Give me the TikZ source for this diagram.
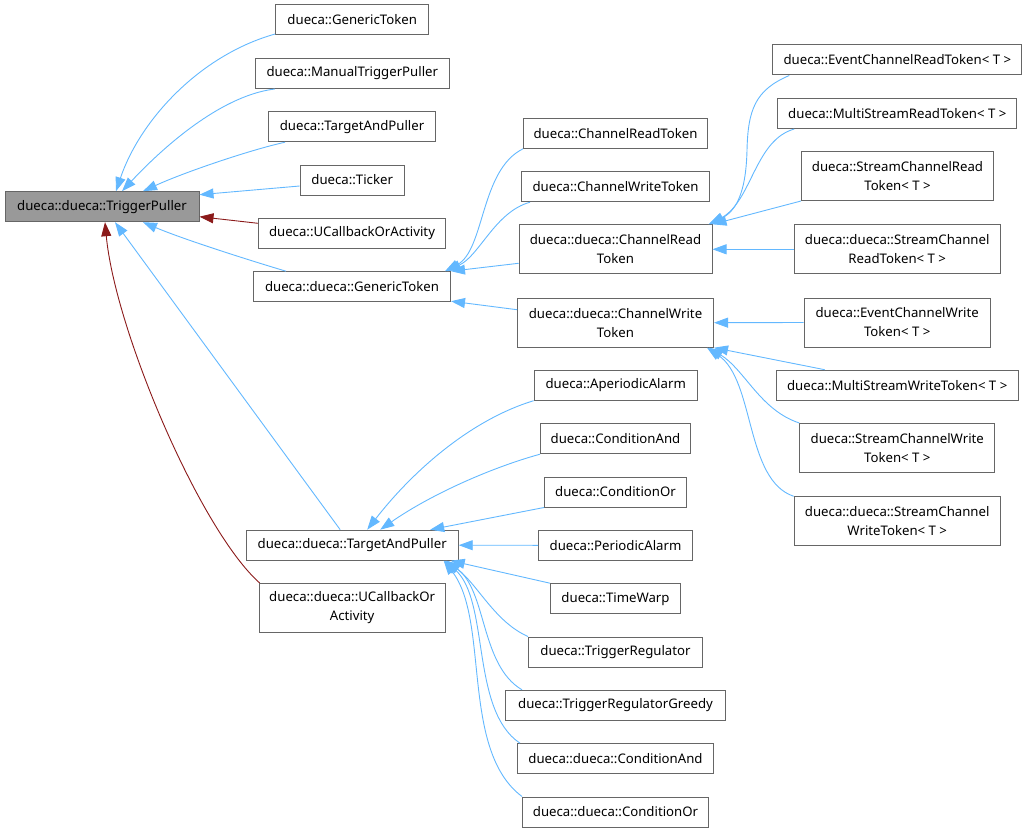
\documentclass[tikz,border=0pt]{standalone}
\usepackage{fontspec}
\setmainfont{Noto Sans}
\usetikzlibrary{arrows.meta,calc}
\definecolor{eblue}{RGB}{99,184,255}
\definecolor{ered}{RGB}{139,26,26}
\definecolor{bgray}{RGB}{102,102,102}
\definecolor{fgray}{RGB}{153,153,153}
\begin{document}
\begin{tikzpicture}[x=1pt,y=-1pt,
  box/.style={draw=bgray, line width=1pt, fill=white, inner sep=0pt, align=center,
    font=\fontsize{13.2}{19}\selectfont, minimum height=30pt},
  tall/.style={minimum height=49pt},
  inh/.style={draw=eblue, line width=0.9pt, -{Triangle[length=14pt,width=10pt,fill=eblue]}},
  prot/.style={draw=ered, line width=0.9pt, -{Triangle[length=14pt,width=10pt,fill=ered]}}]
\useasboundingbox (0,0) rectangle (1027,832);
% left column
\node[box, fill=fgray, minimum width=194pt] (tp) at (102,206.7) {dueca::dueca::TriggerPuller};
\node[box, minimum width=153pt] (gt) at (352.2,20) {dueca::GenericToken};
\node[box, minimum width=194pt] (mtp) at (352.3,73.5) {dueca::ManualTriggerPuller};
\node[box, minimum width=167pt] (tap) at (352,126.7) {dueca::TargetAndPuller};
\node[box, minimum width=104pt] (tick) at (352.2,180) {dueca::Ticker};
\node[box, minimum width=187pt] (uca) at (352,233.3) {dueca::UCallbackOrActivity};
\node[box, minimum width=197pt] (ddgt) at (352,286.7) {dueca::dueca::GenericToken};
\node[box, minimum width=212pt] (ddtap) at (352.2,545.2) {dueca::dueca::TargetAndPuller};
\node[box, tall, minimum width=186pt] (dduca) at (352.2,608) {dueca::dueca::UCallbackOr\\Activity};
% middle column
\node[box, minimum width=184pt] (crt) at (615.5,133.3) {dueca::ChannelReadToken};
\node[box, minimum width=188pt] (cwt) at (615.5,186.7) {dueca::ChannelWriteToken};
\node[box, tall, minimum width=193pt] (ddcrt) at (615.5,249.3) {dueca::dueca::ChannelRead\\Token};
\node[box, tall, minimum width=196pt] (ddcwt) at (615.5,322.7) {dueca::dueca::ChannelWrite\\Token};
\node[box, minimum width=163pt] (aper) at (615.7,385.2) {dueca::AperiodicAlarm};
\node[box, minimum width=150pt] (cand) at (615.5,438.7) {dueca::ConditionAnd};
\node[box, minimum width=142pt] (cor) at (615.5,492) {dueca::ConditionOr};
\node[box, minimum width=154pt] (per) at (615.5,545.3) {dueca::PeriodicAlarm};
\node[box, minimum width=130pt] (tw) at (615.5,598.7) {dueca::TimeWarp};
\node[box, minimum width=174pt] (treg) at (615.5,652) {dueca::TriggerRegulator};
\node[box, minimum width=220pt] (tregg) at (615.5,705.3) {dueca::TriggerRegulatorGreedy};
\node[box, minimum width=196pt] (ddcand) at (615.5,758.7) {dueca::dueca::ConditionAnd};
\node[box, minimum width=186pt] (ddcor) at (615.5,812) {dueca::dueca::ConditionOr};
% right column
\node[box, minimum width=249pt] (ecrt) at (897.3,60) {dueca::EventChannelReadToken< T >};
\node[box, minimum width=239pt] (msrt) at (897.3,113.5) {dueca::MultiStreamReadToken< T >};
\node[box, tall, minimum width=192pt] (scrt) at (897.5,176) {dueca::StreamChannelRead\\Token< T >};
\node[box, tall, minimum width=206pt] (ddscrt) at (897.2,249.3) {dueca::dueca::StreamChannel\\ReadToken< T >};
\node[box, tall, minimum width=186pt] (ecwt) at (897.2,322.5) {dueca::EventChannelWrite\\Token< T >};
\node[box, minimum width=242pt] (mswt) at (897.2,385.2) {dueca::MultiStreamWriteToken< T >};
\node[box, tall, minimum width=195pt] (scwt) at (897.3,448) {dueca::StreamChannelWrite\\Token< T >};
\node[box, tall, minimum width=206pt] (ddscwt) at (897.2,521.3) {dueca::dueca::StreamChannel\\WriteToken< T >};
% edges into TriggerPuller
\draw[inh] ([yshift=1.5pt]gt.south west) .. controls (200,55) and (140,120) .. ([xshift=14pt]tp.north);
\draw[inh] ([xshift=20pt]mtp.south west) .. controls (225,95) and (170,140) .. ([xshift=20pt]tp.north);
\draw[inh] ([xshift=17pt]tap.south west) .. controls (250,150) and (185,172) .. ([xshift=41pt]tp.north);
\draw[inh] ([yshift=-6pt]tick.west) -- ([yshift=12pt]tp.east);
\draw[prot] ([yshift=10pt]uca.west) -- ([yshift=-10pt]tp.east);
\draw[inh] ([xshift=33pt]ddgt.north west) .. controls (255,262) and (185,240) .. ([xshift=41pt]tp.south);
\draw[inh] ([xshift=-12pt]ddtap.north) -- ([xshift=13pt]tp.south);
\draw[prot] ([xshift=1pt]dduca.north west) .. controls (200,530) and (115,330) .. ([xshift=3pt]tp.south);
% edges into dueca::dueca::GenericToken
\draw[inh] (crt.south west) .. controls (480,170) and (485,250) .. ([xshift=-6pt]ddgt.north east);
\draw[inh] ([xshift=9pt]cwt.south west) .. controls (495,212) and (480,255) .. ([xshift=-4pt]ddgt.north east);
\draw[inh] ([yshift=-14pt]ddcrt.west) -- (ddgt.north east);
\draw[inh] ([yshift=13pt]ddcwt.west) -- ([yshift=1pt]ddgt.south east);
% edges into ChannelRead Token
\draw[inh] ([xshift=17pt]ecrt.south west) .. controls (755,90) and (748,110) .. (747,150) .. controls (746,195) and (735,212) .. ([xshift=-4pt]ddcrt.north east);
\draw[inh] ([xshift=17pt]msrt.south west) .. controls (755,140) and (752,200) .. ([xshift=-2pt]ddcrt.north east);
\draw[inh] (scrt.south west) -- (ddcrt.north east);
\draw[inh] (ddscrt.west) -- (ddcrt.east);
% edges into ChannelWrite Token
\draw[inh] (ecwt.west) -- (ddcwt.east);
\draw[inh] ([xshift=49pt]mswt.north west) -- (ddcwt.south east);
\draw[inh] (scwt.north west) .. controls (760,410) and (745,370) .. ([xshift=-5pt]ddcwt.south east);
\draw[inh] (ddscwt.north west) .. controls (745,480) and (755,380) .. ([xshift=-7pt]ddcwt.south east);
% edges into TargetAndPuller
\draw[inh] (aper.south west) .. controls (470,420) and (412,472) .. ([xshift=15pt]ddtap.north);
\draw[inh] (cand.south west) .. controls (490,468) and (430,495) .. ([xshift=28pt]ddtap.north);
\draw[inh] (cor.south west) -- ([xshift=78pt]ddtap.north);
\draw[inh] (per.west) -- (ddtap.east);
\draw[inh] (tw.north west) -- ([xshift=-8pt]ddtap.south east);
\draw[inh] (treg.north west) .. controls (495,622) and (478,585) .. ([xshift=-12pt]ddtap.south east);
\draw[inh] ([xshift=17pt]tregg.north west) .. controls (480,665) and (487,590) .. ([xshift=-13pt]ddtap.south east);
\draw[inh] ([xshift=3pt]ddcand.north west) .. controls (470,710) and (490,600) .. ([xshift=-14pt]ddtap.south east);
\draw[inh] (ddcor.north west) .. controls (460,750) and (490,620) .. ([xshift=-15pt]ddtap.south east);
\end{tikzpicture}
\end{document}
